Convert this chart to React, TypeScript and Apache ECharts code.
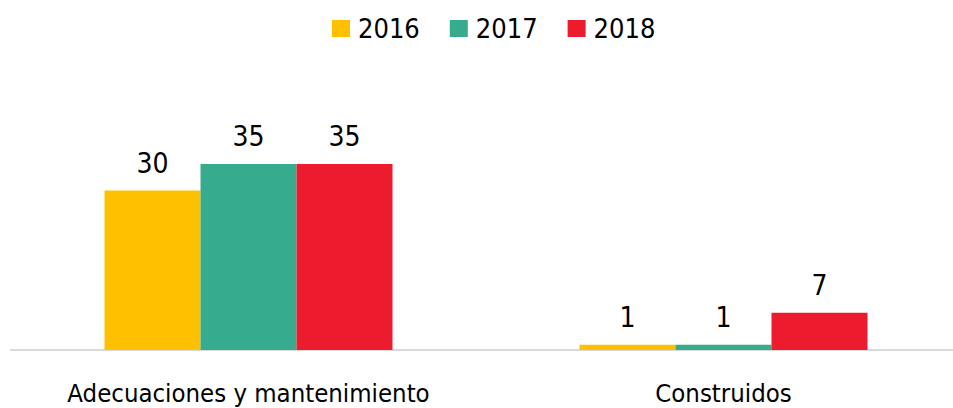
import React, { useEffect, useRef } from "react";
import * as echarts from "echarts";

const categories = ["Adecuaciones y mantenimiento", "Construidos"];
const seriesNames = ["2016", "2017", "2018"];
const values2016 = [30, 1];
const values2017 = [35, 1];
const values2018 = [35, 7];
const colors = ["#FFC000", "#36AB8D", "#EC1C2E"];

const FONT = "'Liberation Sans Narrow', 'DejaVu Sans Condensed', 'Roboto', sans-serif";

export default function App() {
  const ref = useRef<HTMLDivElement>(null);
  useEffect(() => {
    if (!ref.current) return;
    const chart = echarts.init(ref.current, null, { renderer: "svg" });
    const data = [values2016, values2017, values2018];
    chart.setOption({
      animation: false,
      textStyle: { fontFamily: FONT },
      legend: {
        left: 332,
        top: 15,
        padding: 0,
        itemWidth: 18,
        itemHeight: 17,
        itemGap: 30,
        icon: "rect",
        textStyle: { fontSize: 27, color: "#000", fontFamily: FONT, padding: [0, 0, 0, 3] },
        data: seriesNames,
      },
      grid: { left: 11, right: 0, top: 137.4, bottom: 58 },
      xAxis: {
        type: "category",
        data: categories,
        axisLine: { lineStyle: { color: "#D9D9D9", width: 2 } },
        axisTick: { show: false },
        axisLabel: {
          interval: 0,
          fontSize: 25.5,
          lineHeight: 26,
          color: "#000",
          fontFamily: FONT,
          margin: 30,
        },
      },
      yAxis: { type: "value", min: 0, max: 40, show: false, splitLine: { show: false } },
      series: seriesNames.map((name, i) => ({
        name,
        type: "bar",
        data: data[i],
        barWidth: 96,
        barGap: "0%",
        itemStyle: { color: colors[i] },
        label: {
          show: true,
          position: "top",
          distance: 13,
          fontSize: 28,
          color: "#000",
          fontFamily: FONT,
        },
      })),
    });
    return () => chart.dispose();
  }, []);
  return (
    <div style={{ position: "absolute", left: 0, top: 0, width: 953, height: 408, overflow: "hidden", background: "#fff" }}>
      <div ref={ref} style={{ width: 961, height: 408 }} />
    </div>
  );
}
